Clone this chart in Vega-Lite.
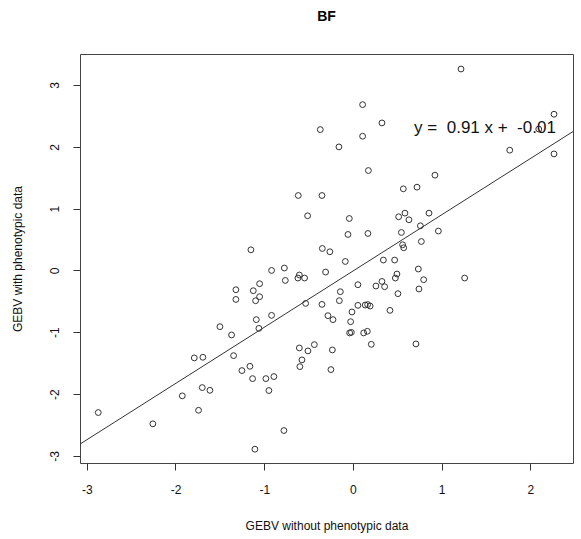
{
  "$schema": "https://vega.github.io/schema/vega-lite/v6.json",
  "width": 493,
  "height": 409,
  "autosize": {"type": "none"},
  "padding": {"left": 80, "top": 54, "right": 8, "bottom": 76},
  "background": "white",
  "config": {
    "font": "Liberation Sans",
    "view": {"stroke": "#444", "strokeWidth": 1}
  },
  "title": {"text": "BF", "fontSize": 14, "fontWeight": "bold", "font": "Liberation Sans", "color": "#000", "anchor": "middle", "offset": 30},
  "datasets": {
    "pts": [
      {"x": -0.368, "y": 2.278}, {"x": -0.616, "y": 1.212}, {"x": -0.349, "y": 1.212}, {"x": -0.511, "y": 0.884},
      {"x": -1.150, "y": 0.334}, {"x": -0.345, "y": 0.355}, {"x": -0.260, "y": 0.302}, {"x": 1.218, "y": 3.258},
      {"x": 0.109, "y": 2.682}, {"x": 0.327, "y": 2.386}, {"x": 2.266, "y": 2.527}, {"x": 0.109, "y": 2.171},
      {"x": -0.158, "y": 1.998}, {"x": 1.767, "y": 1.945}, {"x": 2.266, "y": 1.885}, {"x": 0.174, "y": 1.616},
      {"x": 0.924, "y": 1.541}, {"x": 0.568, "y": 1.320}, {"x": 0.722, "y": 1.347}, {"x": -0.041, "y": 0.840},
      {"x": 0.515, "y": 0.868}, {"x": 0.586, "y": 0.927}, {"x": 0.631, "y": 0.819}, {"x": 0.857, "y": 0.927},
      {"x": 0.760, "y": 0.722}, {"x": 0.963, "y": 0.637}, {"x": -0.056, "y": 0.582}, {"x": 0.169, "y": 0.598},
      {"x": 0.546, "y": 0.614}, {"x": 0.771, "y": 0.468}, {"x": 0.560, "y": 0.415}, {"x": 0.572, "y": 0.367},
      {"x": 0.343, "y": 0.168}, {"x": 0.470, "y": 0.168}, {"x": -0.086, "y": 0.145}, {"x": -0.917, "y": 0.000},
      {"x": -0.773, "y": 0.039}, {"x": -0.762, "y": -0.162}, {"x": -0.604, "y": -0.074}, {"x": -0.620, "y": -0.123},
      {"x": -0.545, "y": -0.123}, {"x": -0.308, "y": -0.026}, {"x": -1.052, "y": -0.215}, {"x": -1.319, "y": -0.312},
      {"x": -1.123, "y": -0.328}, {"x": -1.319, "y": -0.469}, {"x": -1.097, "y": -0.490}, {"x": -1.052, "y": -0.425},
      {"x": -0.533, "y": -0.533}, {"x": -0.349, "y": -0.549}, {"x": -0.282, "y": -0.732}, {"x": -0.917, "y": -0.727},
      {"x": -1.089, "y": -0.796}, {"x": -1.060, "y": -0.937}, {"x": -1.499, "y": -0.910}, {"x": -1.368, "y": -1.044},
      {"x": -1.345, "y": -1.378}, {"x": -1.788, "y": -1.415}, {"x": -1.691, "y": -1.405}, {"x": -0.604, "y": -1.254},
      {"x": -0.507, "y": -1.302}, {"x": -0.435, "y": -1.200}, {"x": -0.575, "y": -1.447}, {"x": -0.598, "y": -1.556},
      {"x": -1.161, "y": -1.551}, {"x": -1.251, "y": -1.620}, {"x": -1.131, "y": -1.750}, {"x": -0.981, "y": -1.750},
      {"x": -0.891, "y": -1.717}, {"x": -0.947, "y": -1.943}, {"x": -1.698, "y": -1.895}, {"x": -1.612, "y": -1.939},
      {"x": -1.923, "y": -2.029}, {"x": -1.740, "y": -2.262}, {"x": -2.870, "y": -2.299}, {"x": -2.255, "y": -2.481},
      {"x": -0.778, "y": -2.590}, {"x": -1.105, "y": -2.892}, {"x": -0.232, "y": -1.286}, {"x": -0.248, "y": -1.604},
      {"x": 0.737, "y": 0.023}, {"x": 0.496, "y": -0.058}, {"x": 0.478, "y": -0.123}, {"x": 0.797, "y": -0.150},
      {"x": 1.259, "y": -0.123}, {"x": 0.056, "y": -0.231}, {"x": 0.259, "y": -0.252}, {"x": 0.327, "y": -0.178},
      {"x": 0.357, "y": -0.263}, {"x": 0.744, "y": -0.300}, {"x": -0.142, "y": -0.344}, {"x": 0.507, "y": -0.376},
      {"x": -0.153, "y": -0.489}, {"x": 0.056, "y": -0.565}, {"x": 0.138, "y": -0.560}, {"x": 0.166, "y": -0.552},
      {"x": 0.194, "y": -0.576}, {"x": 0.417, "y": -0.646}, {"x": -0.011, "y": -0.672}, {"x": -0.225, "y": -0.796},
      {"x": -0.026, "y": -0.829}, {"x": -0.037, "y": -1.011}, {"x": -0.018, "y": -1.002}, {"x": 0.121, "y": -1.011},
      {"x": 0.162, "y": -0.985}, {"x": 0.207, "y": -1.195}, {"x": 0.710, "y": -1.189}, {"x": 2.094, "y": 2.287}
    ],
    "fit": [
      {"x": -3.2, "y": -2.922},
      {"x": 2.6, "y": 2.356}
    ],
    "eq": [
      {"x": 1.488, "y": 2.22, "label": "y =\u00a0 0.91 x +\u00a0 -0.01"}
    ]
  },
  "layer": [
    {
      "data": {"name": "pts"},
      "mark": {"type": "point", "shape": "circle", "filled": false, "stroke": "#333", "strokeWidth": 1, "size": 34, "opacity": 1},
      "encoding": {
        "x": {
          "field": "x", "type": "quantitative",
          "scale": {"domain": [-3.076, 2.48], "nice": false, "zero": false},
          "axis": {
            "title": "GEBV without phenotypic data",
            "values": [-3, -2, -1, 0, 1, 2],
            "labelExpr": "'' + datum.value",
            "grid": false, "domain": false,
            "tickSize": 7, "tickColor": "#333",
            "labelFont": "Liberation Sans", "labelFontSize": 12, "labelColor": "#111", "labelPadding": 14,
            "titleFont": "Liberation Sans", "titleFontSize": 12, "titleFontWeight": "normal", "titleColor": "#111",
            "titleY": 66, "titleBaseline": "alphabetic"
          }
        },
        "y": {
          "field": "y", "type": "quantitative",
          "scale": {"domain": [-3.115, 3.501], "nice": false, "zero": false},
          "axis": {
            "title": "GEBV with phenotypic data",
            "values": [-3, -2, -1, 0, 1, 2, 3],
            "labelExpr": "'' + datum.value",
            "grid": false, "domain": false,
            "tickSize": 7, "tickColor": "#333",
            "labelFont": "Liberation Sans", "labelFontSize": 12, "labelColor": "#111",
            "labelAngle": -90, "labelAlign": "center", "labelBaseline": "bottom", "labelPadding": 12,
            "titleFont": "Liberation Sans", "titleFontSize": 12, "titleFontWeight": "normal", "titleColor": "#111",
            "titleX": -59, "titleBaseline": "alphabetic", "titleAngle": -90
          }
        }
      }
    },
    {
      "data": {"name": "fit"},
      "mark": {"type": "line", "stroke": "#333", "strokeWidth": 1, "clip": true},
      "encoding": {
        "x": {"field": "x", "type": "quantitative"},
        "y": {"field": "y", "type": "quantitative"}
      }
    },
    {
      "data": {"name": "eq"},
      "mark": {"type": "text", "font": "Liberation Sans", "fontSize": 17, "color": "#111", "align": "center", "baseline": "alphabetic"},
      "encoding": {
        "x": {"field": "x", "type": "quantitative"},
        "y": {"field": "y", "type": "quantitative"},
        "text": {"field": "label"}
      }
    }
  ]
}
